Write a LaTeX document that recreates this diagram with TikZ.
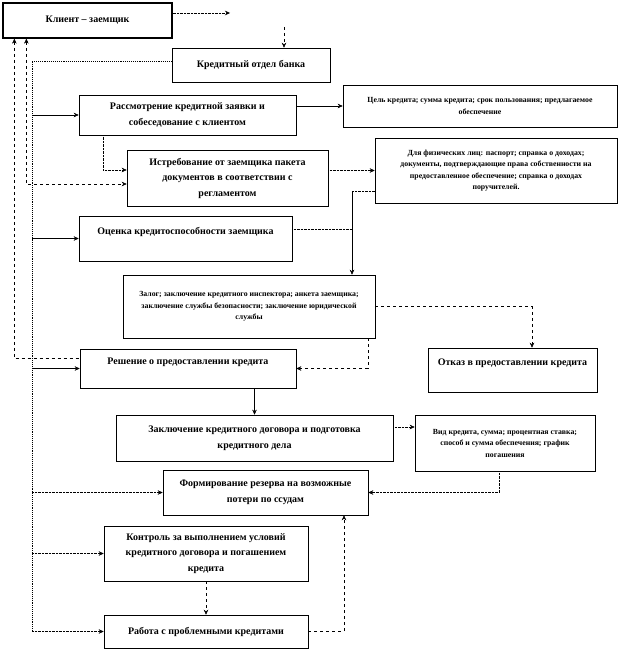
\documentclass[tikz,border=0pt]{standalone}
\usepackage{fontspec}
\setmainfont{Liberation Serif}
\usetikzlibrary{arrows.meta}

\begin{document}
\begin{tikzpicture}[x=1pt, y=-1pt, >={Stealth[length=5pt, width=4.5pt]},
    box/.style={draw, line width=0.6pt, align=center, inner sep=0pt,
      font=\fontsize{10}{15.5}\selectfont\bfseries},
    note/.style={box, font=\fontsize{7.8}{11.5}\selectfont\bfseries},
    trunk/.style={densely dotted, line width=0.9pt},
    conn/.style={->, thin}]
        % \draw[help lines, gray!50, very thin] (0,0) grid[step=50] (623,652);
        \useasboundingbox (0,0) rectangle (623,652);

        \node[box, line width=1.3pt, minimum width=169pt, minimum height=35pt] (client) at (87.5,20.5) {Клиент – заемщик};
        \node[box, minimum width=158pt, minimum height=34pt] (otdel) at (251,65) {Кредитный отдел банка};

        \node[box, minimum width=217pt, minimum height=40pt] (rassm) at (187.5,115) {Рассмотрение кредитной заявки и\\ собеседование с клиентом};
        \node[note, minimum width=274pt, minimum height=42pt] (cel) at (480,106) {Цель кредита; сумма кредита; срок пользования; предлагаемое\\ обеспечение};

        \node[box, minimum width=201pt, minimum height=56pt] (istreb) at (227.5,178) {Истребование от заемщика пакета\\ документов в соответствии с\\ регламентом};
        \node[note, minimum width=242pt, minimum height=65pt] (docs) at (496,170.5) {Для физических лиц: паспорт; справка о доходах;\\ документы, подтверждающие права собственности на\\ предоставленное обеспечение; справка о доходах\\ поручителей.};

        \node[box, minimum width=213pt, minimum height=45pt] (ocenka) at (185.5,238.5) {Оценка кредитоспособности заемщика\\ \mbox{}};
        \node[note, minimum width=252pt, minimum height=63pt] (zalog) at (249,306.5) {Залог; заключение кредитного инспектора; анкета заемщика;\\ заключение службы безопасности; заключение юридической\\ службы};

        \node[box, minimum width=216pt, minimum height=39pt] (reshenie) at (188,368.5) {Решение о предоставлении кредита\\ \mbox{}};
        \node[box, minimum width=169pt, minimum height=44pt] (otkaz) at (512.5,370) {Отказ в предоставлении кредита\\ \mbox{}};

        \node[box, minimum width=277pt, minimum height=46pt] (zakl) at (254.5,438) {Заключение кредитного договора и подготовка\\ кредитного дела};
        \node[note, minimum width=180pt, minimum height=56pt] (vid) at (505,443) {Вид кредита, сумма; процентная ставка;\\ способ и сумма обеспечения; график\\ погашения};

        \node[box, minimum width=205pt, minimum height=45pt] (rezerv) at (265.5,492.5) {Формирование резерва на возможные\\ потери по ссудам};
        \node[box, minimum width=204pt, minimum height=55pt] (kontrol) at (206,553.5) {Контроль за выполнением условий\\ кредитного договора и погашением\\ кредита};
        \node[box, minimum width=204pt, minimum height=33pt] (rabota) at (206,631.5) {Работа с проблемными кредитами};

        \coordinate (free) at (230,13);
        \coordinate (above) at (284,27);
        \coordinate (trunk) at (32,0);
        \coordinate (drop) at ([xshift=103pt]zalog.north);

        % top
        \draw[conn, densely dotted] (client.east |- free) -- (free);
        \draw[conn, dashed] (above) -- (above |- otdel.north);

        % left trunk from the credit department
        \draw[trunk] ([yshift=4pt]otdel.west) -| (trunk |- rabota.west);
        \draw[conn] (trunk |- rassm.west) -- (rassm.west);
        \draw[conn] (trunk |- ocenka.west) -- (ocenka.west);
        \draw[conn] (trunk |- reshenie.west) -- (reshenie.west);
        \draw[conn, densely dotted] (trunk |- rezerv.west) -- (rezerv.west);
        \draw[conn, densely dotted] (trunk |- kontrol.west) -- (kontrol.west);
        \draw[conn, densely dotted] (trunk |- rabota.west) -- (rabota.west);

        % back to the client
        \draw[<->, dashed] ([xshift=24pt]client.south west) |- ([yshift=-6pt]istreb.west);
        \draw[<-, dashed] ([xshift=12pt]client.south west) |- ([yshift=10pt]reshenie.west);

        \draw[conn] (rassm.east |- cel.west) -- (cel.west);
        \draw[conn, densely dotted] ([xshift=-84.5pt]rassm.south) |- ([yshift=8pt]istreb.west);
        \draw[conn, densely dotted] (istreb.east |- docs.west) -- (docs.west);
        \draw[densely dotted] ([yshift=-21pt]docs.west) -- ([yshift=-21pt]docs.west -| drop);
        \draw[conn] ([yshift=-21pt]docs.west -| drop) -- (drop);
        \draw[densely dotted] ([yshift=9.5pt]ocenka.east) -- ([yshift=9.5pt]ocenka.east -| drop);

        \draw[conn, dashed] (zalog.east) -| ([xshift=19.5pt]otkaz.north);
        \draw[conn, dashed] ([xshift=119pt]zalog.south) |- (reshenie.east);
        \draw[conn] (reshenie.south -| zakl.north) -- (zakl.north);
        \draw[conn, densely dotted] ([yshift=11pt]zakl.east) -- ([yshift=11pt]zakl.east -| vid.west);
        \draw[conn, densely dotted] ([xshift=-6pt]vid.south) |- (rezerv.east);

        \draw[conn, dashed] (kontrol.south) -- (rabota.north);
        \draw[conn, dashed] (rabota.east) -| ([xshift=78.5pt]rezerv.south);
      \end{tikzpicture}
\end{document}
